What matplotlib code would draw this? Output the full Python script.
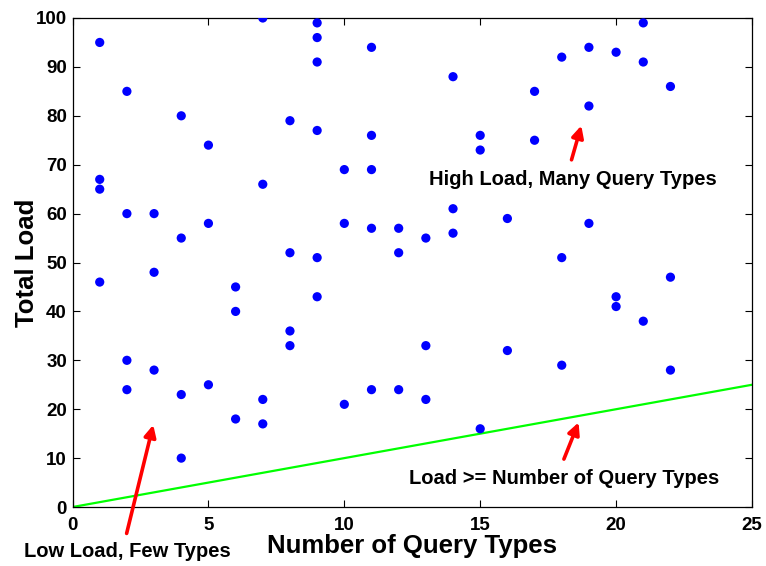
import matplotlib.pyplot as plt
import numpy as np

plt.rcParams['font.family'] = ['Liberation Sans', 'DejaVu Sans']
plt.rcParams['font.weight'] = 'bold'

# query-type counts and total load per sample
query_types = [1, 1, 1, 1,
               2, 2, 2, 2,
               3, 3, 3,
               4, 4, 4, 4,
               5, 5, 5,
               6, 6, 6,
               7, 7, 7, 7,
               8, 8, 8, 8,
               9, 9, 9, 9, 9, 9,
               10, 10, 10,
               11, 11, 11, 11, 11,
               12, 12, 12,
               13, 13, 13,
               14, 14, 14,
               15, 15, 15,
               16, 16,
               17, 17,
               18, 18, 18,
               19, 19, 19,
               20, 20, 20,
               21, 21, 21,
               22, 22, 22]
total_load = [95, 67, 65, 46,
              85, 60, 30, 24,
              60, 48, 28,
              80, 55, 23, 10,
              74, 58, 25,
              45, 40, 18,
              100, 66, 22, 17,
              79, 52, 36, 33,
              99, 96, 91, 77, 51, 43,
              69, 58, 21,
              94, 76, 69, 57, 24,
              57, 52, 24,
              55, 33, 22,
              88, 61, 56,
              76, 73, 16,
              59, 32,
              85, 75,
              92, 51, 29,
              94, 82, 58,
              93, 43, 41,
              99, 91, 38,
              86, 47, 28]

bound_x = [0, 25]
bound_y = [0, 25]

fig = plt.figure(figsize=(7.66, 5.66), dpi=100)
ax = fig.add_axes([0.0947, 0.1042, 0.8870, 0.8640])

ax.scatter(query_types, total_load, s=44, color='blue', edgecolors='none', zorder=3)
ax.plot(bound_x, bound_y, color=(0, 1, 0), lw=1.6, zorder=2)

ax.set_xlim(0, 25)
ax.set_ylim(0, 100)
ax.set_xticks(np.arange(0, 26, 5))
ax.set_yticks(np.arange(0, 101, 10))
ax.tick_params(direction='in', top=True, right=True, length=5, width=0.8,
               labelsize=13.5, pad=4)
ax.tick_params(axis='x', pad=7)
for lab in ax.get_xticklabels() + ax.get_yticklabels():
    lab.set_fontweight('bold')
for sp in ax.spines.values():
    sp.set_linewidth(0.9)

ax.set_xlabel('Number of Query Types', fontsize=18.5, fontweight='bold', labelpad=0)
ax.set_ylabel('Total Load', fontsize=18.5, fontweight='bold', labelpad=-2)

arrow = dict(arrowstyle='-|>,head_length=0.7,head_width=0.35', color='red',
             lw=2.6, shrinkA=0, shrinkB=0)

ax.annotate('', xy=(2.97, 16.8), xytext=(1.99, -5.4), arrowprops=arrow,
            annotation_clip=False)
ax.text(2.03, -9.1, 'Low Load, Few Types', fontsize=14.5, fontweight='bold',
        ha='center', va='center', clip_on=False)

ax.annotate('', xy=(18.72, 78.0), xytext=(18.36, 71.0), arrowprops=arrow)
ax.text(18.4, 66.9, 'High Load, Many Query Types', fontsize=14.5,
        fontweight='bold', ha='center', va='center')

ax.annotate('', xy=(18.62, 17.3), xytext=(18.08, 9.8), arrowprops=arrow)
ax.text(18.09, 5.9, 'Load >= Number of Query Types', fontsize=14.5,
        fontweight='bold', ha='center', va='center')

fig.savefig('out.png', dpi=100)
